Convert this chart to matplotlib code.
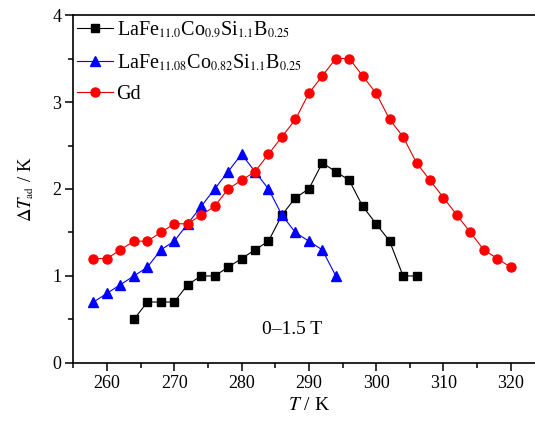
import matplotlib
matplotlib.use('Agg')
import matplotlib.pyplot as plt
import matplotlib._mathtext as mathtext_internal
from matplotlib.ticker import MultipleLocator

plt.rcParams['font.family'] = ['Liberation Serif', 'DejaVu Serif']
plt.rcParams['mathtext.fontset'] = 'stix'
# smaller subscripts, like the original figure
mathtext_internal.SHRINK_FACTOR = 0.6

# LaFe11.0Co0.9Si1.1B0.25
t_sq = [264, 266, 268, 270, 272, 274, 276, 278, 280, 282, 284, 286, 288, 290,
        292, 294, 296, 298, 300, 302, 304, 306]
dt_sq = [0.5, 0.7, 0.7, 0.7, 0.9, 1.0, 1.0, 1.1, 1.2, 1.3, 1.4, 1.7, 1.9, 2.0,
         2.3, 2.2, 2.1, 1.8, 1.6, 1.4, 1.0, 1.0]

# LaFe11.08Co0.82Si1.1B0.25
t_tri = [258, 260, 262, 264, 266, 268, 270, 272, 274, 276, 278, 280, 282, 284,
         286, 288, 290, 292, 294]
dt_tri = [0.7, 0.8, 0.9, 1.0, 1.1, 1.3, 1.4, 1.6, 1.8, 2.0, 2.2, 2.4, 2.2, 2.0,
          1.7, 1.5, 1.4, 1.3, 1.0]

# Gd
t_gd = [258, 260, 262, 264, 266, 268, 270, 272, 274, 276, 278, 280, 282, 284,
        286, 288, 290, 292, 294, 296, 298, 300, 302, 304, 306, 308, 310, 312,
        314, 316, 318, 320]
dt_gd = [1.2, 1.2, 1.3, 1.4, 1.4, 1.5, 1.6, 1.6, 1.7, 1.8, 2.0, 2.1, 2.2, 2.4,
         2.6, 2.8, 3.1, 3.3, 3.5, 3.5, 3.3, 3.1, 2.8, 2.6, 2.3, 2.1, 1.9, 1.7,
         1.5, 1.3, 1.2, 1.1]

fig = plt.figure(figsize=(5.35, 4.3), dpi=100)
ax = fig.add_axes([0.137, 0.156, 0.8806, 0.809])

ax.plot(t_sq, dt_sq, color='black', lw=0.8, marker='s', ms=5.5,
        label=r'LaFe$_{11.0}$Co$_{0.9}$Si$_{1.1}$B$_{0.25}$')
ax.plot(t_tri, dt_tri, color='#0000ff', lw=0.8, marker='^', ms=7,
        label=r'LaFe$_{11.08}$Co$_{0.82}$Si$_{1.1}$B$_{0.25}$')
ax.plot(t_gd, dt_gd, color='#e00000', mfc='red', mec='red', lw=0.8,
        marker='o', ms=6.5, label='Gd')

ax.set_xlim(255, 325)
ax.set_ylim(0, 4)
ax.xaxis.set_major_locator(MultipleLocator(10))
ax.xaxis.set_minor_locator(MultipleLocator(5))
ax.yaxis.set_major_locator(MultipleLocator(1))
ax.yaxis.set_minor_locator(MultipleLocator(0.5))
ax.tick_params(which='both', direction='out', width=1.1, labelsize=13)
ax.tick_params(which='major', length=5.5, pad=3)
ax.tick_params(which='minor', length=3.5)
ax.tick_params(axis='x', top=False)
ax.tick_params(axis='y', right=False)
for sp in ax.spines.values():
    sp.set_linewidth(1.2)

ax.set_xlabel(r'$\mathit{T}$ / K', fontsize=14, labelpad=4)
ax.set_ylabel(r'$\Delta\mathit{T}_{\mathrm{ad}}$ / K', fontsize=13.5, labelpad=12)

ax.text(283, 0.38, '0\u20131.5 T', fontsize=14, va='center', ha='left')

ax.legend(loc='upper left', bbox_to_anchor=(0.0, 0.997), frameon=False,
          fontsize=14.5, handlelength=1.75, handletextpad=0.2, borderaxespad=0.1,
          borderpad=0.1, labelspacing=0.58)

fig.savefig('out.png', dpi=100)
